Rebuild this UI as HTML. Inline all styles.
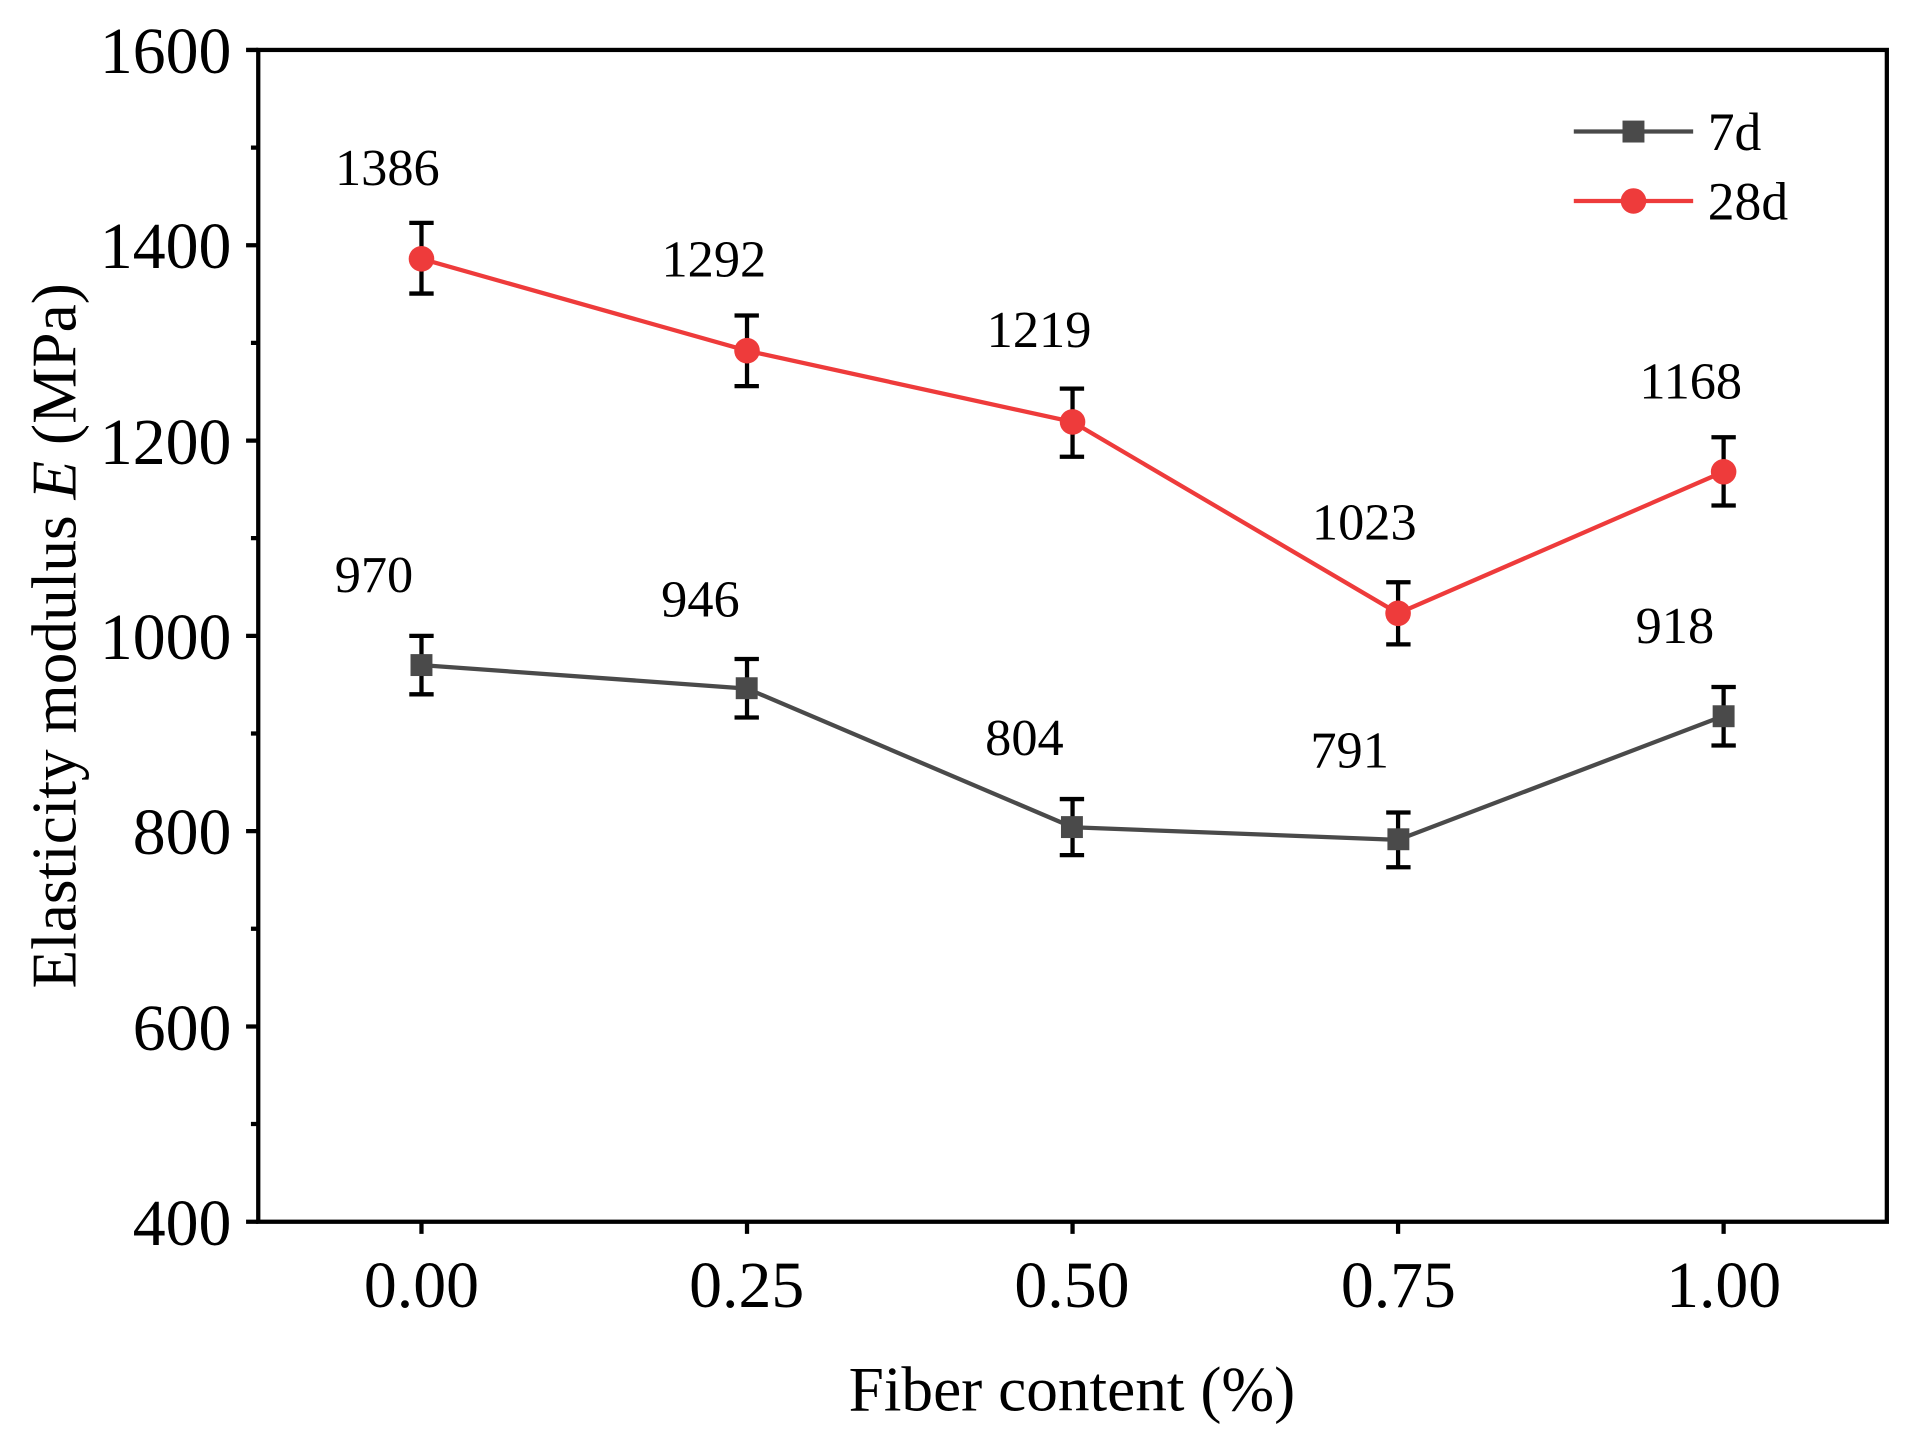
<!DOCTYPE html>
<html><head><meta charset="utf-8"><style>html,body{margin:0;padding:0;background:#fff}svg{display:block}</style></head>
<body>
<svg width="1910" height="1441" viewBox="0 0 1568 1183" xmlns="http://www.w3.org/2000/svg" font-family="Liberation Serif, serif">
<rect width="1568" height="1183" fill="#fff"/>
<g stroke="#000" stroke-width="3.5" fill="none">
<rect x="212" y="41" width="1337" height="962"/>
<path d="M212 41h-10M212 201.3h-10M212 361.7h-10M212 522h-10M212 682.3h-10M212 842.7h-10M212 1003h-10"/>
<path d="M212 121.2h-6M212 281.5h-6M212 441.8h-6M212 602.2h-6M212 762.5h-6M212 922.8h-6"/>
<path d="M346 1003v10M613.25 1003v10M880.5 1003v10M1147.75 1003v10M1415 1003v10"/>
</g>
<g font-size="54" text-anchor="end" fill="#000">
<text x="190" y="60">1600</text><text x="190" y="220">1400</text><text x="190" y="381">1200</text>
<text x="190" y="541">1000</text><text x="190" y="701">800</text><text x="190" y="862">600</text><text x="190" y="1022">400</text>
</g>
<g font-size="54" text-anchor="middle" fill="#000">
<text x="346" y="1073">0.00</text><text x="613" y="1073">0.25</text><text x="880" y="1073">0.50</text>
<text x="1148" y="1073">0.75</text><text x="1415" y="1073">1.00</text>
<text x="880" y="1158" font-size="52">Fiber content (%)</text>
<text transform="translate(62,522) rotate(-90)" font-size="52">Elasticity modulus <tspan font-style="italic">E</tspan> (MPa)</text>
</g>
<!-- 7d -->
<polyline points="346,546 613.25,565.3 880.5,679.1 1147.75,689.5 1415,587.7" fill="none" stroke="#4a4a4a" stroke-width="3.5"/>
<g stroke="#000" stroke-width="3.5">
<path d="M346 522v48M336 522h20M336 570h20"/>
<path d="M613.25 541v48M603 541h20M603 589h20"/>
<path d="M880.5 656v46M870 656h20M870 702h20"/>
<path d="M1147.75 667v45M1138 667h20M1138 712h20"/>
<path d="M1415 564v48M1405 564h20M1405 612h20"/>
</g>
<g fill="#4a4a4a">
<rect x="337" y="537" width="18" height="18"/><rect x="604" y="556" width="18" height="18"/>
<rect x="871" y="670" width="18" height="18"/><rect x="1139" y="680" width="18" height="18"/>
<rect x="1406" y="579" width="18" height="18"/>
</g>
<!-- 28d -->
<polyline points="346,212.5 613.25,287.9 880.5,346.4 1147.75,503.5 1415,387.3" fill="none" stroke="#ee3b3b" stroke-width="3.5"/>
<g stroke="#000" stroke-width="3.5">
<path d="M346 183v58M336 183h20M336 241h20"/>
<path d="M613.25 259v58M603 259h20M603 317h20"/>
<path d="M880.5 319v56M870 319h20M870 375h20"/>
<path d="M1147.75 478v51M1138 478h20M1138 529h20"/>
<path d="M1415 359v56M1405 359h20M1405 415h20"/>
</g>
<g fill="#ee3b3b">
<circle cx="346" cy="212.5" r="10.5"/><circle cx="613.25" cy="287.9" r="10.5"/><circle cx="880.5" cy="346.4" r="10.5"/>
<circle cx="1147.75" cy="503.5" r="10.5"/><circle cx="1415" cy="387.3" r="10.5"/>
</g>
<g font-size="43" text-anchor="middle" fill="#000">
<text x="318" y="152">1386</text><text x="586" y="227">1292</text><text x="853" y="285">1219</text>
<text x="1120" y="443">1023</text><text x="1388" y="327">1168</text>
<text x="307" y="486">970</text><text x="575" y="506">946</text><text x="841" y="620">804</text>
<text x="1108" y="630">791</text><text x="1375" y="528">918</text>
</g>
<!-- legend -->
<line x1="1292" y1="108" x2="1390" y2="108" stroke="#4a4a4a" stroke-width="3.5"/>
<rect x="1332" y="99" width="18" height="18" fill="#4a4a4a"/>
<line x1="1292" y1="165" x2="1390" y2="165" stroke="#ee3b3b" stroke-width="3.5"/>
<circle cx="1341" cy="165" r="10.5" fill="#ee3b3b"/>
<g font-size="44" fill="#000"><text x="1402" y="123">7d</text><text x="1402" y="180">28d</text></g>
</svg>
</body></html>
